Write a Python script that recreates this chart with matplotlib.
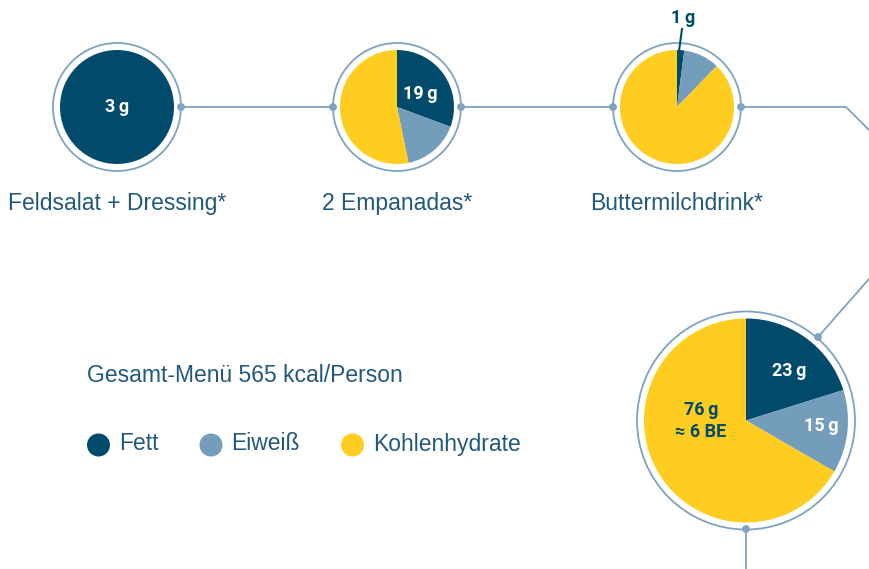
import matplotlib.pyplot as plt
from matplotlib.patches import Circle

# grams per nutrient: Fett, Eiweiß, Kohlenhydrate
nutrients = ["Fett", "Eiweiß", "Kohlenhydrate"]
feldsalat = [3, 0, 0]
empanadas = [19, 10, 33]
buttermilch = [1, 5, 43]
gesamt = [23, 15, 76]
dishes = ["Feldsalat + Dressing*", "2 Empanadas*", "Buttermilchdrink*"]
title = "Gesamt-Menü 565 kcal/Person"

DARK = "#004a6b"
LIGHT = "#739dba"
YELLOW = "#fecd1f"
RING = "#7fa3bf"
TEXT = "#21597c"
colors = [DARK, LIGHT, YELLOW]

W, H = 870, 569
fig = plt.figure(figsize=(W / 100, H / 100), dpi=100)
ax = fig.add_axes([0, 0, 1, 1])

sans = ["Liberation Sans", "DejaVu Sans"]
bold = ["Roboto", "DejaVu Sans"]


def y(py):
    return H - py


def grams(v):
    return f"{v}\u2009g"


def donut(vals, cx, cy, r_pie, r_ring):
    ax.pie(vals, center=(cx, y(cy)), radius=r_pie, startangle=90,
           counterclock=False, colors=colors, wedgeprops=dict(linewidth=0))
    ax.add_patch(Circle((cx, y(cy)), r_ring, fill=False, ec=RING, lw=1.3, zorder=3))


small = [(117, feldsalat), (397, empanadas), (677, buttermilch)]
for cx, vals in small:
    donut(vals, cx, 107, 57, 64)
donut(gesamt, 746, 420.5, 102, 109)

# connector lines
line_kw = dict(color=RING, lw=1.3, zorder=2)
ax.plot([181, 333], [y(107), y(107)], **line_kw)
ax.plot([461, 613], [y(107), y(107)], **line_kw)
ax.plot([741, 846, 880], [y(107), y(107), y(141)], **line_kw)
ax.plot([818, 890], [y(337), y(255)], **line_kw)
ax.plot([746, 746], [y(529), y(580)], **line_kw)
for px, py in [(181, 107), (333, 107), (461, 107), (613, 107), (741, 107), (818, 337), (746, 529)]:
    ax.add_patch(Circle((px, y(py)), 3.2, color=RING, zorder=4))

# dish names
for (cx, _), name in zip(small, dishes):
    ax.text(cx, y(203), name, ha="center", va="center", fontsize=16.5,
            color=TEXT, family=sans)

# values inside the pies
val_kw = dict(ha="center", va="center", fontsize=13, fontweight="bold", family=bold)
ax.text(117, y(107), grams(feldsalat[0]), color="white", **val_kw)
ax.text(420, y(94), grams(empanadas[0]), color="white", **val_kw)
ax.text(683, y(18), grams(buttermilch[0]), color=DARK, **val_kw)
ax.plot([682, 679], [y(29), y(51)], color=DARK, lw=1.5, zorder=5)
ax.text(789, y(371), grams(gesamt[0]), color="white", **val_kw)
ax.text(821, y(426), grams(gesamt[1]), color="white", **val_kw)
ax.text(701, y(410), grams(gesamt[2]), color=DARK, **val_kw)
ax.text(701, y(432), "≈ 6 BE", color=DARK, **val_kw)

# title and legend
ax.text(87, y(376), title, ha="left", va="center", fontsize=16.5, color=TEXT, family=sans)
for mx, label, c in zip([98.5, 211, 352.5], nutrients, colors):
    ax.add_patch(Circle((mx, y(445)), 11.5, color=c, lw=0))
    ax.text(mx + 20.5, y(444), label, ha="left", va="center", fontsize=16.5,
            color=TEXT, family=sans)

ax.set_xlim(0, W)
ax.set_ylim(0, H)
ax.set_aspect("equal")
ax.axis("off")
fig.savefig("out.png", dpi=100)
